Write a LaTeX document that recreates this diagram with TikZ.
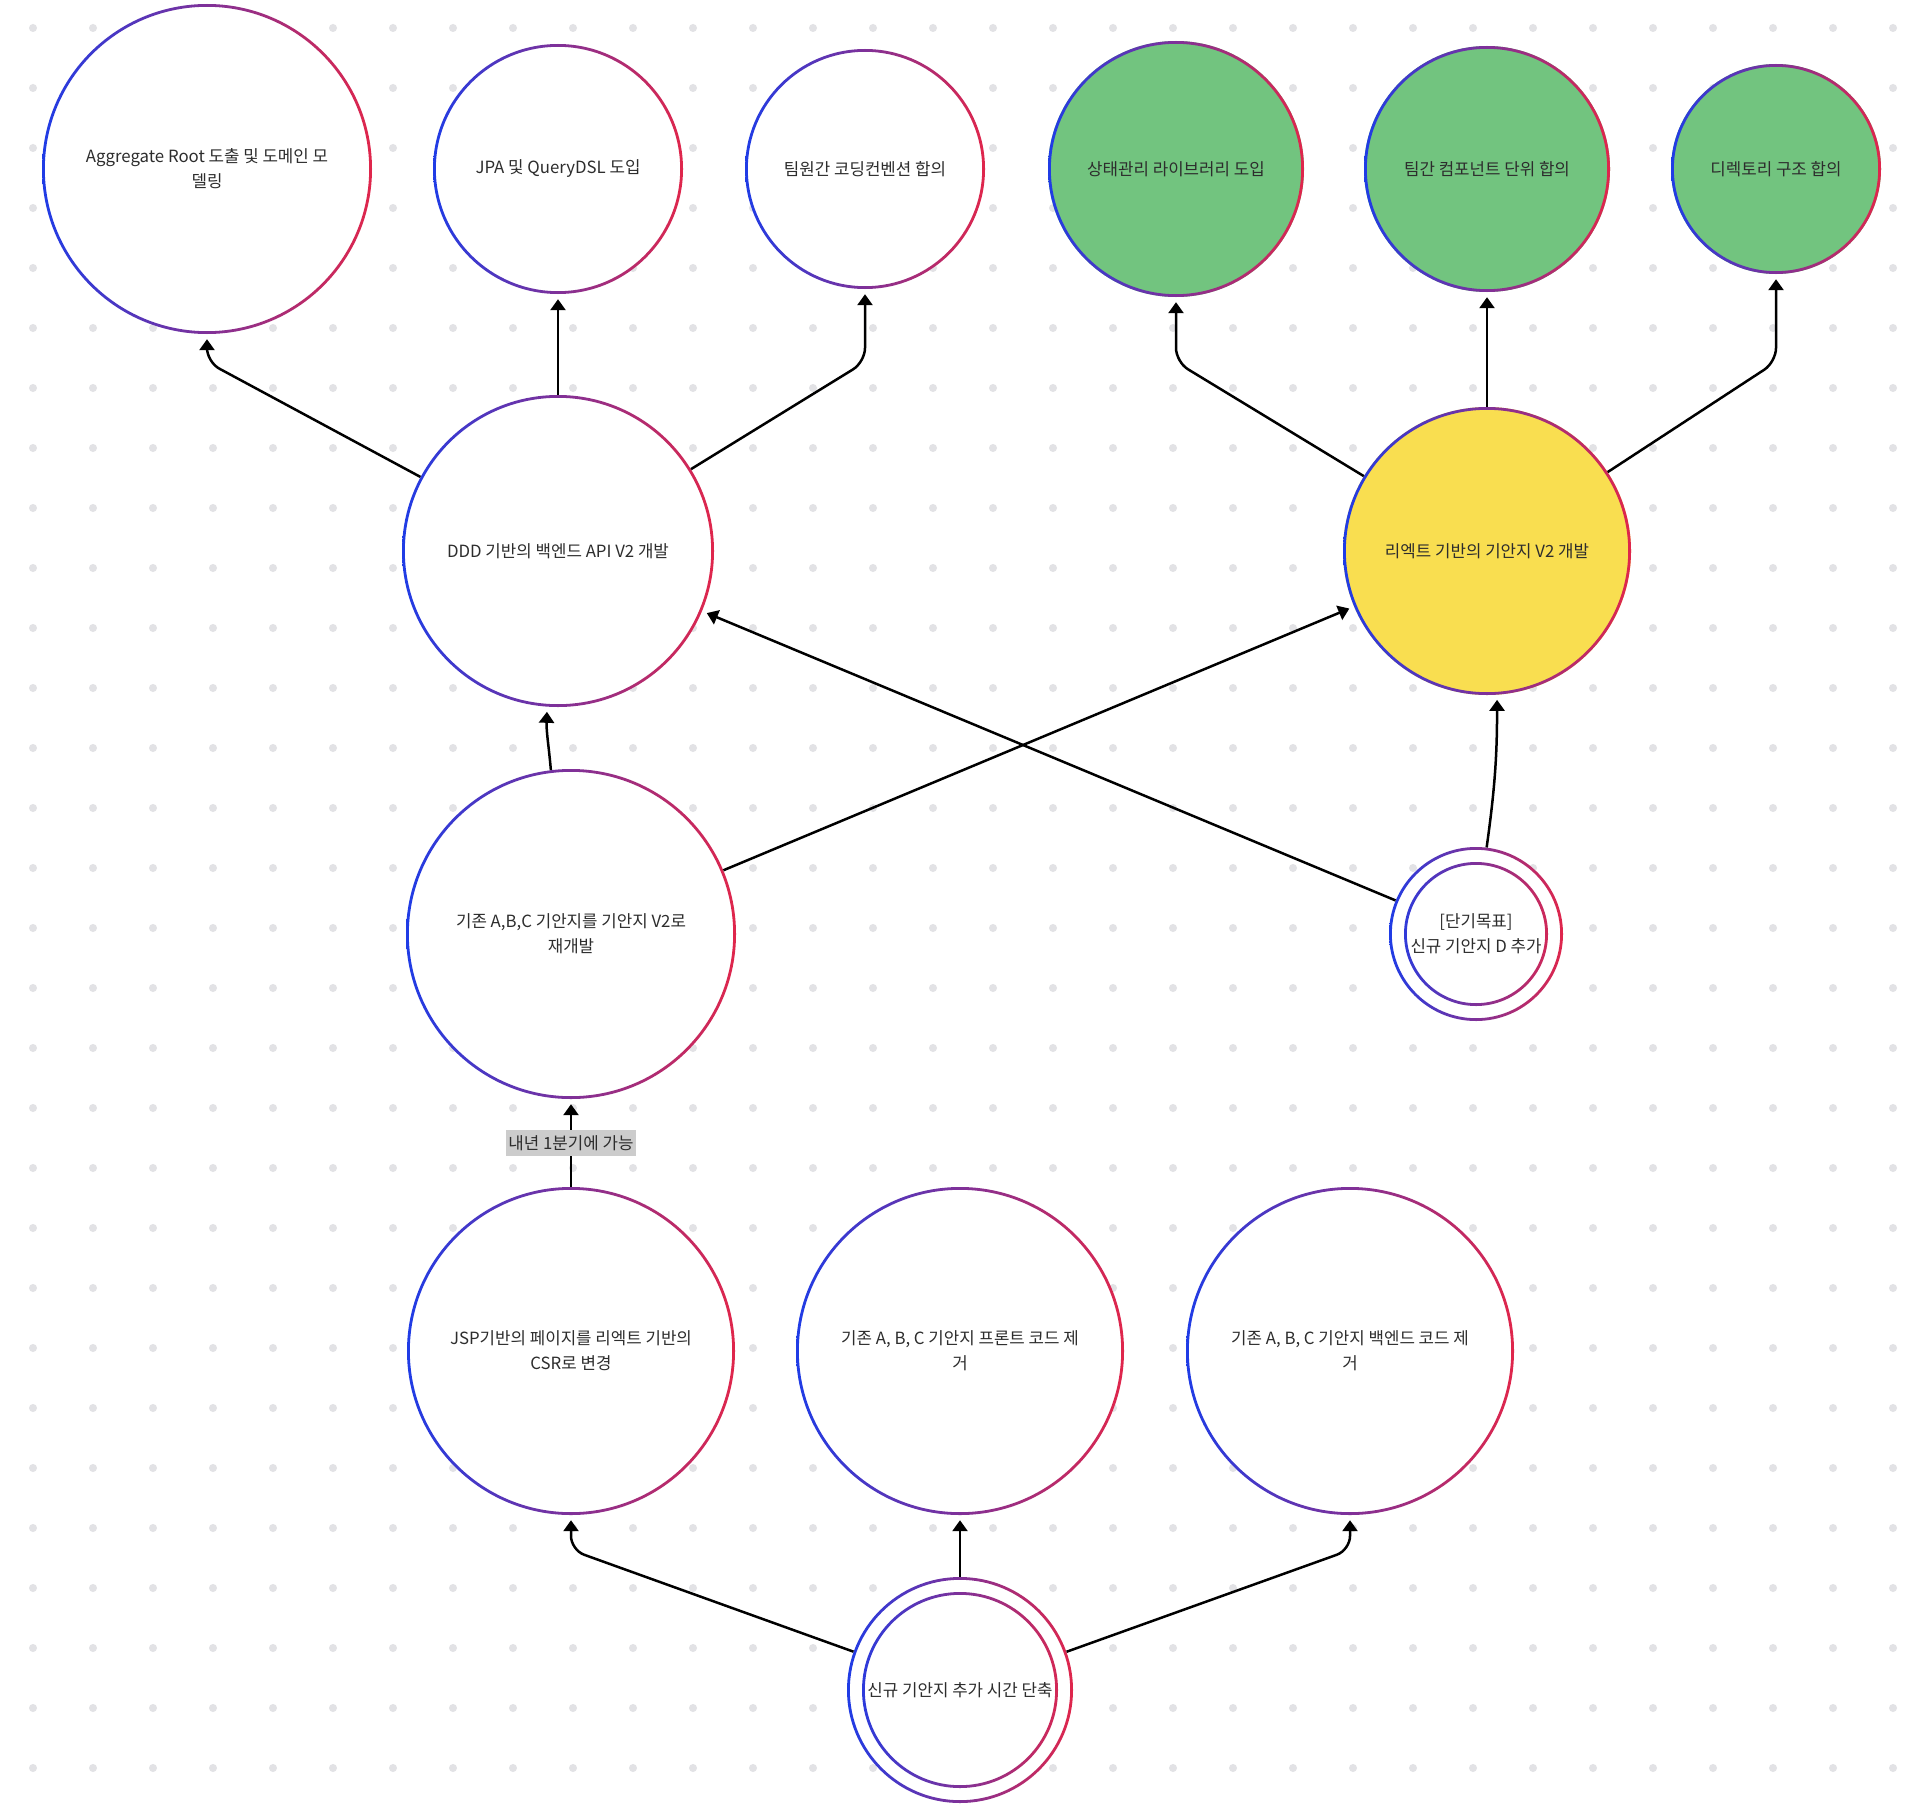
\documentclass[tikz,border=0pt]{standalone}
\usepackage{fontspec}
\setmainfont{Noto Sans CJK KR}
\usetikzlibrary{positioning,calc,arrows.meta}

\definecolor{ringblue}{RGB}{31,60,230}
\definecolor{ringred}{RGB}{224,38,75}
\definecolor{donegreen}{RGB}{114,196,127}
\definecolor{doingyellow}{RGB}{249,222,80}
\definecolor{textgray}{RGB}{45,45,45}
\definecolor{dotgray}{RGB}{226,226,229}
\definecolor{labelgray}{RGB}{204,204,204}

\tikzstyle{goalbase} = [circle, fill=white, text=textgray, align=center, font=\fontsize{16.8pt}{25pt}\selectfont]
\tikzstyle{goal} = [goalbase, path picture={\shade[left color=ringblue, right color=ringred, even odd rule]
    let \p1=(path picture bounding box.east), \p2=(path picture bounding box.center)
    in (\p2) circle ({\x1-\x2}) circle ({\x1-\x2-2.8pt});}]
\tikzstyle{twingoal} = [goalbase, path picture={\shade[left color=ringblue, right color=ringred, even odd rule]
    let \p1=(path picture bounding box.east), \p2=(path picture bounding box.center)
    in (\p2) circle ({\x1-\x2}) circle ({\x1-\x2-2.8pt}) circle ({\x1-\x2-15pt}) circle ({\x1-\x2-17.8pt});}]
\tikzstyle{done} = [goal, fill=donegreen]
\tikzstyle{doing} = [goal, fill=doingyellow]
\tikzstyle{arrow} = [line width=2.5pt, -{Triangle[length=11pt,width=15pt]}, shorten >=5pt, rounded corners=14pt]
\tikzstyle{note} = [sharp corners, fill=labelgray, text=textgray, font=\fontsize{16.8pt}{20pt}\selectfont, inner xsep=2pt, inner ysep=0pt, minimum height=26pt]

\begin{document}
\begin{tikzpicture}
\useasboundingbox (0,0) rectangle (1918pt,-1814pt);
\fill[white] (0,0) rectangle (1918pt,-1814pt);
\foreach \col in {0,...,31}
  \foreach \row in {0,...,29}
    \fill[dotgray] (33pt+60pt*\col,-28pt-60pt*\row) circle (4pt);

% top row
\node (agg) [goal, minimum size=330pt] at (207pt,-169pt) {Aggregate Root 도출 및 도메인 모\\델링};
\node (jpa) [goal, minimum size=250pt, right of=agg, node distance=351pt] {JPA 및 QueryDSL 도입};
\node (conv) [goal, minimum size=240pt, right of=jpa, node distance=307pt] {팀원간 코딩컨벤션 합의};
\node (state) [done, minimum size=256pt, right of=conv, node distance=311pt] {상태관리 라이브러리 도입};
\node (comp) [done, minimum size=246pt, right of=state, node distance=311pt] {팀간 컴포넌트 단위 합의};
\node (dir) [done, minimum size=210pt, right of=comp, node distance=289pt] {디렉토리 구조 합의};

% middle
\node (ddd) [goal, minimum size=312pt, below of=jpa, node distance=382pt] {DDD 기반의 백엔드 API V2 개발};
\node (react) [doing, minimum size=288pt, below of=comp, node distance=382pt] {리엑트 기반의 기안지 V2 개발};
\node (rebuild) [goal, minimum size=330pt, below of=ddd, node distance=383pt, xshift=13pt] {기존 A,B,C 기안지를 기안지 V2로\\재개발};
\node (short) [twingoal, minimum size=174pt, below of=react, node distance=383pt, xshift=-11pt] {[단기목표]\\신규 기안지 D 추가};

% bottom
\node (jsp) [goal, minimum size=328pt, below of=rebuild, node distance=417pt] {JSP기반의 페이지를 리엑트 기반의\\CSR로 변경};
\node (front) [goal, minimum size=328pt, right of=jsp, node distance=389pt] {기존 A, B, C 기안지 프론트 코드 제\\거};
\node (back) [goal, minimum size=328pt, right of=front, node distance=390pt] {기존 A, B, C 기안지 백엔드 코드 제\\거};
\node (root) [twingoal, minimum size=226pt, below of=front, node distance=339pt] {신규 기안지 추가 시간 단축};

\coordinate (toprow) at (0,-362pt);
\coordinate (lowrow) at (0,-1550pt);

\draw [arrow] (ddd) -- (agg |- toprow) -- (agg);
\draw [arrow] (ddd) -- (jpa);
\draw [arrow] (ddd) -- (conv |- toprow) -- (conv);
\draw [arrow] (react) -- (state |- toprow) -- (state);
\draw [arrow] (react) -- (comp);
\draw [arrow] (react) -- (dir |- toprow) -- (dir);
\draw [arrow] (rebuild.97) to [out=95,in=-92] (ddd.266);
\draw [arrow] (rebuild) -- (react);
\draw [arrow] (short) -- (ddd);
\draw [arrow] (short.83) to [out=82,in=-90] (react.274);
\draw [arrow] (jsp) -- node [note] {내년 1분기에 가능} (rebuild);
\draw [arrow] (root) -- (jsp |- lowrow) -- (jsp);
\draw [arrow] (root) -- (front);
\draw [arrow] (root) -- (back |- lowrow) -- (back);
\end{tikzpicture}
\end{document}
